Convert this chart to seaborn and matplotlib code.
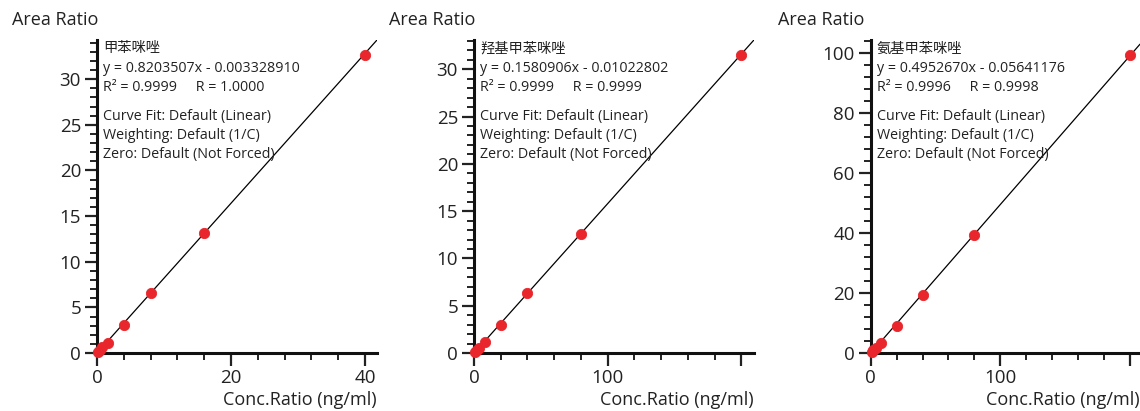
import matplotlib
matplotlib.use("Agg")
import matplotlib.pyplot as plt
import seaborn as sns
import pandas as pd
from matplotlib.ticker import MultipleLocator, FixedLocator

sns.set_theme(style="ticks")
plt.rcParams['font.family'] = ['Open Sans', 'Noto Sans CJK SC', 'DejaVu Sans']
plt.rcParams['text.color'] = '#222222'
plt.rcParams['xtick.color'] = '#222222'
plt.rcParams['ytick.color'] = '#222222'
plt.rcParams['axes.labelcolor'] = '#222222'

# data
names = ["甲苯咪唑", "羟基甲苯咪唑", "氨基甲苯咪唑"]
conc1 = [0.2, 0.4, 0.8, 1.6, 4, 8, 16, 40]
area1 = [0.14, 0.3, 0.62, 1.15, 3.1, 6.6, 13.1, 32.6]
conc2 = [1, 2, 4, 8, 20, 40, 80, 200]
area2 = [0.15, 0.3, 0.55, 1.18, 3.0, 6.3, 12.6, 31.5]
conc3 = [1, 2, 4, 8, 20, 40, 80, 200]
area3 = [0.4, 0.9, 1.8, 3.4, 8.9, 19.2, 39.2, 99.5]
slopes = [0.8203507, 0.1580906, 0.4952670]
intercepts = [-0.003328910, -0.01022802, -0.05641176]
eq_text = ["y = 0.8203507x - 0.003328910", "y = 0.1580906x - 0.01022802", "y = 0.4952670x - 0.05641176"]
r_text = ["R² = 0.9999     R = 1.0000", "R² = 0.9999     R = 0.9999", "R² = 0.9996     R = 0.9998"]
fit_text = "Curve Fit: Default (Linear)\nWeighting: Default (1/C)\nZero: Default (Not Forced)"

concs = [conc1, conc2, conc3]
areas = [area1, area2, area3]
xlims = [41.8, 209.4, 208]
ylims = [34.3, 33.1, 104.4]
xmajor = [[0, 20, 40], [0, 100, 200], [0, 100, 200]]
xminor = [4, 20, 20]
ymajor = [5, 5, 20]
yminor = [1, 1, 4]
lefts = [0.0851, 0.4158, 0.7638]
widths = [0.2456, 0.2456, 0.2362]

fig = plt.figure(figsize=(11.4, 4.11), dpi=100)

for i in range(3):
    ax = fig.add_axes([lefts[i], 0.141, widths[i], 0.762])
    df = pd.DataFrame({"conc": concs[i], "area": areas[i]})
    ax.axline((0, intercepts[i]), slope=slopes[i], color="black", lw=0.9, zorder=2)
    sns.scatterplot(data=df, x="conc", y="area", ax=ax, color="#e8262b",
                    edgecolor="#e8262b", s=55, zorder=3, clip_on=False)
    ax.set_xlim(0, xlims[i])
    ax.set_ylim(0, ylims[i])
    sns.despine(ax=ax)
    for s in ["left", "bottom"]:
        ax.spines[s].set_linewidth(2.2)
        ax.spines[s].set_color("#111111")
    ax.xaxis.set_major_locator(FixedLocator(xmajor[i]))
    ax.set_xticklabels([str(v) if not (i > 0 and v == 200) else "" for v in xmajor[i]])
    ax.xaxis.set_minor_locator(MultipleLocator(xminor[i]))
    ax.yaxis.set_major_locator(MultipleLocator(ymajor[i]))
    ax.yaxis.set_minor_locator(MultipleLocator(yminor[i]))
    ax.tick_params(which="major", length=9, width=1.6, labelsize=13.5, pad=2.5)
    ax.tick_params(which="minor", length=5, width=1.4)
    ax.set_ylabel("")
    ax.set_xlabel("Conc.Ratio (ng/ml)", loc="right", fontsize=13, labelpad=3)
    ax.annotate("Area Ratio", xy=(0, 1), xycoords="axes fraction",
                xytext=(-85 if i < 2 else -93, 20), textcoords="offset pixels",
                fontsize=13, ha="left", va="center")
    ax.text(0.022, 0.995, names[i] + "\n" + eq_text[i] + "\n" + r_text[i],
            transform=ax.transAxes, fontsize=10.3, va="top", ha="left", linespacing=1.38)
    ax.text(0.022, 0.78, fit_text, transform=ax.transAxes, fontsize=10.3,
            va="top", ha="left", linespacing=1.38)

fig.savefig("out.png", dpi=100)
